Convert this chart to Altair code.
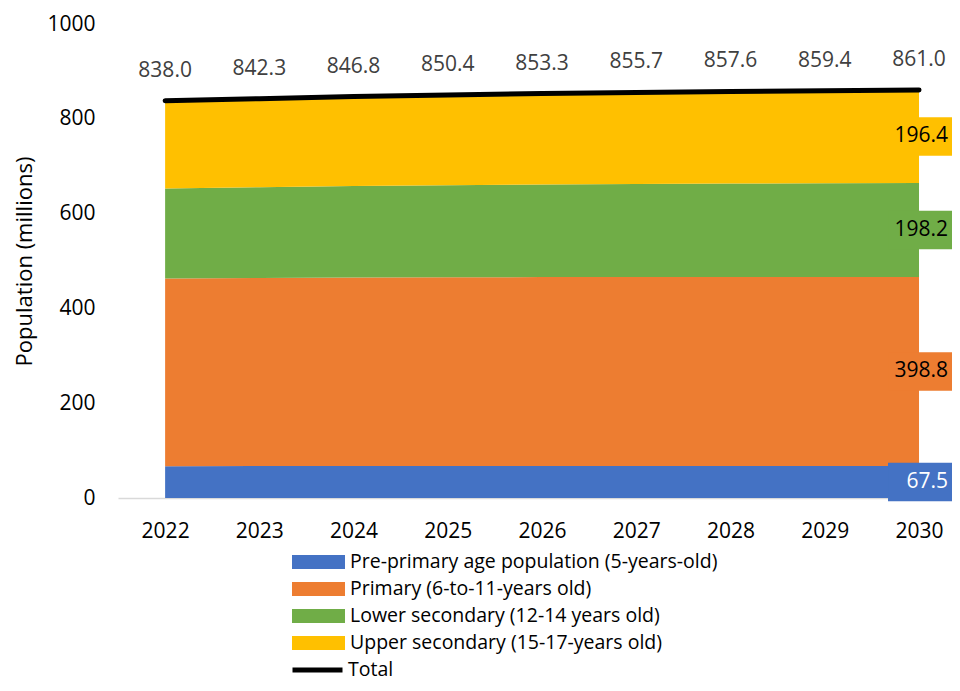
import altair as alt
import pandas as pd

years = [2022, 2023, 2024, 2025, 2026, 2027, 2028, 2029, 2030]
pre_primary = [67.0, 67.3, 67.5, 67.6, 67.7, 67.7, 67.6, 67.6, 67.5]
primary = [396.0, 396.8, 397.5, 398.0, 398.4, 398.7, 398.9, 398.9, 398.8]
lower_secondary = [190.0, 191.5, 193.0, 194.3, 195.3, 196.2, 197.0, 197.6, 198.2]
upper_secondary = [185.0, 186.7, 188.8, 190.5, 191.9, 193.1, 194.1, 195.3, 196.4]
totals = [838.0, 842.3, 846.8, 850.4, 853.3, 855.7, 857.6, 859.4, 861.0]

series_names = [
    "Pre-primary age population (5-years-old)",
    "Primary (6-to-11-years old)",
    "Lower secondary (12-14 years old)",
    "Upper secondary (15-17-years old)",
]
series_colors = ["#4472C4", "#ED7D31", "#70AD47", "#FFC000"]
label_text_colors = ["#FFFFFF", "#000000", "#000000", "#000000"]
series_values = [pre_primary, primary, lower_secondary, upper_secondary]

FONT = "Open Sans"

rows = []
for i, (name, vals) in enumerate(zip(series_names, series_values)):
    for y, v in zip(years, vals):
        rows.append({"year": y, "series": name, "value": v, "order": i})
df = pd.DataFrame(rows)

# end labels at last year, centred on each band
end_rows = []
cum = 0.0
for i, (name, vals) in enumerate(zip(series_names, series_values)):
    v = vals[-1]
    end_rows.append({"year": years[-1], "series": name, "value": v,
                     "mid": cum + v / 2, "tcolor": label_text_colors[i]})
    cum += v
end_df = pd.DataFrame(end_rows)

tot_df = pd.DataFrame({"year": years, "total": totals, "label": ["Total"] * len(years)})

xscale = alt.Scale(domain=[2021.5, 2030.35], nice=False, zero=False)
yscale = alt.Scale(domain=[0, 1000], nice=False)

x_axis = alt.Axis(values=years, format="d", labelFontSize=21, ticks=False, grid=False,
                  domainColor="#D9D9D9", domainWidth=1.5, labelPadding=22, title=None,
                  labelColor="#000000", labelFlush=False)
y_axis = alt.Axis(values=[0, 200, 400, 600, 800, 1000], format="d", ticks=False, grid=False,
                  domain=False, labelPadding=23, labelFontSize=21, labelColor="#000000",
                  title="Population (millions)", titleFontSize=22, titleFontWeight="normal",
                  titleColor="#000000", titlePadding=10)

fill_scale = alt.Scale(domain=series_names, range=series_colors)

area = alt.Chart(df).mark_area().encode(
    x=alt.X("year:Q", scale=xscale, axis=x_axis),
    y=alt.Y("value:Q", stack="zero", scale=yscale, axis=y_axis),
    fill=alt.Fill("series:N", scale=fill_scale, sort=series_names,
                  legend=alt.Legend(orient="none", legendX=174, legendY=524.5, title=None,
                                    symbolType="M-1,-0.26H1V0.26H-1Z", symbolSize=2809,
                                    symbolStrokeWidth=0, labelFontSize=19.5, labelOffset=5,
                                    padding=0, clipHeight=27, rowPadding=0, labelLimit=700,
                                    labelColor="#000000", labelFont=FONT)),
    order=alt.Order("order:Q"),
)

boxes = alt.Chart(end_df).mark_point(
    shape="M-1,-0.6H1V0.6H-1Z", size=4096, filled=True, opacity=1, strokeWidth=0, xOffset=1
).encode(
    x=alt.X("year:Q", scale=xscale),
    y=alt.Y("mid:Q", scale=yscale),
    fill=alt.Fill("series:N", scale=fill_scale, legend=None),
)

end_text = alt.Chart(end_df).mark_text(align="right", baseline="middle", dx=29, fontSize=21).encode(
    x=alt.X("year:Q", scale=xscale),
    y=alt.Y("mid:Q", scale=yscale),
    text=alt.Text("value:Q", format=".1f"),
    color=alt.Color("tcolor:N", scale=None),
)

line = alt.Chart(tot_df).mark_line(strokeWidth=5, strokeCap="round").encode(
    x=alt.X("year:Q", scale=xscale),
    y=alt.Y("total:Q", scale=yscale),
    stroke=alt.Stroke("label:N", scale=alt.Scale(domain=["Total"], range=["#000000"]),
                      legend=alt.Legend(orient="none", legendX=172, legendY=632.5, title=None,
                                        symbolType="stroke", symbolSize=2500,
                                        symbolStrokeWidth=5, labelFontSize=19.5, labelOffset=3,
                                        padding=0, clipHeight=27, labelColor="#000000",
                                        labelFont=FONT)),
)

tot_text = alt.Chart(tot_df).mark_text(baseline="middle", dy=-30, fontSize=21, color="#404040").encode(
    x=alt.X("year:Q", scale=xscale),
    y=alt.Y("total:Q", scale=yscale),
    text=alt.Text("total:Q", format=".1f"),
)

chart = alt.layer(area, boxes, end_text, line, tot_text).resolve_scale(
    fill="shared"
).properties(
    width=834, height=474,
    autosize=alt.AutoSizeParams(type="none"),
    padding={"left": 110, "top": 16, "right": 0, "bottom": 183},
).configure(font=FONT).configure_view(stroke=None)

chart.save("out.html", embed_options={"renderer": "svg", "actions": False})
